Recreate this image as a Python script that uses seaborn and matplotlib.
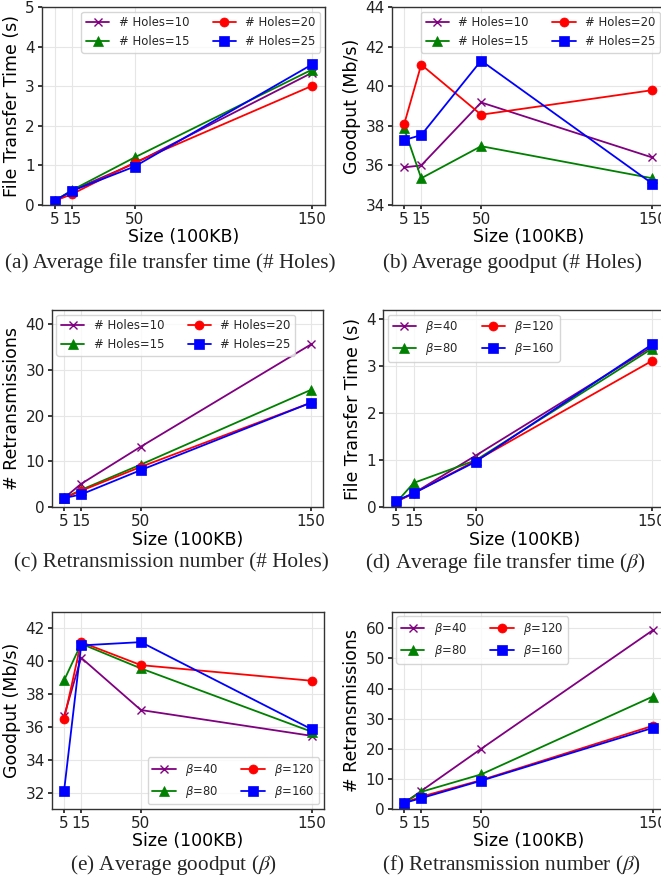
import numpy as np
import pandas as pd
import matplotlib
matplotlib.use("Agg")
import matplotlib.pyplot as plt
import seaborn as sns

# ---------------- data ----------------
sizes = [5, 15, 50, 150]

holes_labels = ["# Holes=10", "# Holes=15", "# Holes=20", "# Holes=25"]
beta_labels = [r"$\beta$=40", r"$\beta$=80", r"$\beta$=120", r"$\beta$=160"]

# (a) file transfer time vs # holes
ftt_h10 = [0.10, 0.37, 1.05, 3.34]
ftt_h15 = [0.10, 0.38, 1.20, 3.42]
ftt_h20 = [0.10, 0.28, 1.07, 3.01]
ftt_h25 = [0.11, 0.36, 0.97, 3.55]

# (b) goodput vs # holes
gp_h10 = [35.90, 36.00, 39.18, 36.40]
gp_h15 = [37.87, 35.35, 36.97, 35.35]
gp_h20 = [38.07, 41.09, 38.56, 39.80]
gp_h25 = [37.28, 37.53, 41.29, 35.08]

# (c) retransmissions vs # holes
rt_h10 = [2.0, 5.1, 13.2, 35.5]
rt_h15 = [2.0, 3.8, 9.3, 25.6]
rt_h20 = [2.0, 3.6, 8.8, 22.8]
rt_h25 = [2.0, 2.8, 8.1, 22.8]

# (d) file transfer time vs beta
ftt_b40 = [0.12, 0.30, 1.10, 3.42]
ftt_b80 = [0.10, 0.52, 1.00, 3.38]
ftt_b120 = [0.12, 0.30, 0.99, 3.12]
ftt_b160 = [0.14, 0.30, 0.97, 3.47]

# (e) goodput vs beta
gp_b40 = [36.65, 40.20, 37.02, 35.45]
gp_b80 = [38.82, 41.05, 39.55, 35.70]
gp_b120 = [36.45, 41.15, 39.75, 38.80]
gp_b160 = [32.10, 40.95, 41.15, 35.85]

# (f) retransmissions vs beta
rt_b40 = [2.0, 6.0, 20.0, 59.3]
rt_b80 = [2.0, 5.7, 11.5, 37.3]
rt_b120 = [2.0, 4.1, 9.6, 27.6]
rt_b160 = [2.0, 3.6, 9.4, 26.9]

colors = ["purple", "green", "red", "blue"]
markers = ["x", "^", "o", "s"]

sns.set_theme(style="whitegrid", rc={
    "axes.edgecolor": "#333333",
    "axes.linewidth": 1.0,
    "grid.color": "#e6e6e6",
    "grid.linewidth": 0.8,
    "xtick.bottom": True,
    "ytick.left": True,
    "xtick.major.size": 3,
    "ytick.major.size": 3,
    "xtick.color": "#222222",
    "ytick.color": "#222222",
    "axes.labelcolor": "black",
})
plt.rcParams["font.family"] = ["DejaVu Sans"]

W, H = 661, 882
fig = plt.figure(figsize=(W / 100, H / 100), dpi=100)


def px_axes(left, right, top, bottom):
    return fig.add_axes([left / W, 1 - bottom / H, (right - left) / W, (bottom - top) / H])


def draw(ax, series, labels, ylabel, ylim, yticks, legend_loc):
    for vals, lab, c, m in zip(series, labels, colors, markers):
        df = pd.DataFrame({"size": sizes, "val": vals})
        sns.lineplot(data=df, x="size", y="val", ax=ax, color=c, marker=m,
                     markersize=6.5 if m != "x" else 6, markeredgecolor=c,
                     markeredgewidth=1.0 if m == "x" else 0.5,
                     linewidth=1.3, label=lab)
    ax.set_xlim(-2.25, 157.25)
    ax.set_ylim(*ylim)
    ax.set_xticks(sizes)
    ax.set_yticks(yticks)
    ax.tick_params(labelsize=11, pad=2)
    ax.set_xlabel("Size (100KB)", fontsize=12.5, labelpad=1)
    ax.set_ylabel(ylabel, fontsize=12.5, labelpad=3)
    ax.legend(loc=legend_loc, ncol=2, fontsize=8.4, frameon=True,
              borderaxespad=0.4, columnspacing=2.0, handlelength=2.0)


ax_a = px_axes(41.7, 325, 7, 205)
draw(ax_a, [ftt_h10, ftt_h15, ftt_h20, ftt_h25], holes_labels,
     "File Transfer Time (s)", (0, 5), [0, 1, 2, 3, 4, 5], "upper right")

ax_b = px_axes(391.7, 664.7, 7, 205)
draw(ax_b, [gp_h10, gp_h15, gp_h20, gp_h25], holes_labels,
     "Goodput (Mb/s)", (34, 44), [34, 36, 38, 40, 42, 44], "upper right")

ax_c = px_axes(51.7, 323.3, 310, 507.3)
draw(ax_c, [rt_h10, rt_h15, rt_h20, rt_h25], holes_labels,
     "# Retransmissions", (0, 43), [0, 10, 20, 30, 40], "upper left")

ax_d = px_axes(383.3, 665, 310, 507.3)
draw(ax_d, [ftt_b40, ftt_b80, ftt_b120, ftt_b160], beta_labels,
     "File Transfer Time (s)", (0, 4.2), [0, 1, 2, 3, 4], "upper left")

ax_e = px_axes(51.7, 324, 611.7, 809)
draw(ax_e, [gp_b40, gp_b80, gp_b120, gp_b160], beta_labels,
     "Goodput (Mb/s)", (31, 43), [32, 34, 36, 38, 40, 42], "lower right")

ax_f = px_axes(391.7, 665, 611.7, 809)
draw(ax_f, [rt_b40, rt_b80, rt_b120, rt_b160], beta_labels,
     "# Retransmissions", (0, 65.5), [0, 10, 20, 30, 40, 50, 60], "upper left")

# captions
captions = [
    (170, 263, "(a) Average file transfer time (# Holes)"),
    (512, 263, "(b) Average goodput (# Holes)"),
    (171, 563, "(c) Retransmission number (# Holes)"),
    (505, 563, r"(d) Average file transfer time ($\beta$)"),
    (174, 865, r"(e) Average goodput ($\beta$)"),
    (512, 865, r"(f) Retransmission number ($\beta$)"),
]
for x, y, t in captions:
    fig.text(x / W, 1 - y / H, t, ha="center", va="center", fontsize=15.3,
             family=["Liberation Serif", "DejaVu Serif"], math_fontfamily="stix")

fig.savefig("out.png", dpi=100)
